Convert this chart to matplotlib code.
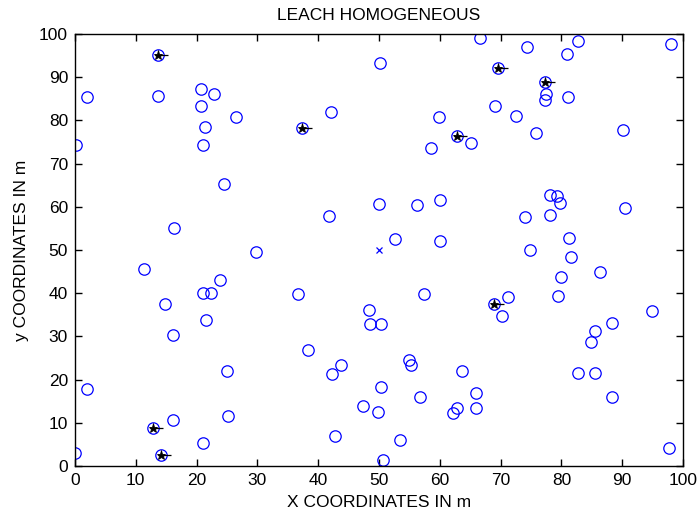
import matplotlib
matplotlib.use('Agg')
import matplotlib.pyplot as plt
from matplotlib.markers import TICKRIGHT

# ── Node positions (m) ──────────────────────────────────────────────────────
node_x = [
    13.7, 2.0, 13.7, 20.7, 22.9, 20.7, 26.5, 21.4, 0.2, 21.1, 24.5, 16.3, 29.8,
    66.6, 50.2, 42.1, 37.3, 59.9, 62.9, 65.2, 58.5, 50.0, 56.2, 60.1, 41.7, 52.6, 60.1,
    74.4, 82.7, 80.9, 98.1, 69.6, 77.3, 77.5, 77.3, 81.1, 69.1, 72.6, 75.8, 90.1,
    78.1, 79.3, 79.7, 90.5, 74.0, 78.1, 81.3, 74.9,
    11.3, 23.9, 21.1, 22.4, 14.8, 21.6, 16.1, 25.0, 2.0, 16.1, 25.1, 12.9, 21.0, 0.0, 14.2,
    36.6, 57.4, 48.4, 48.6, 50.4, 38.4, 55.0, 55.3, 43.8, 42.2, 63.6, 50.4, 65.9,
    56.7, 47.4, 49.8, 62.9, 62.2, 65.9, 42.8, 53.4, 50.6,
    81.5, 86.4, 79.9, 79.5, 68.9, 71.2, 70.3, 94.9, 88.3, 85.5, 84.8, 82.8, 85.5, 88.3, 97.7,
]
node_y = [
    95.1, 85.4, 85.7, 87.2, 86.0, 83.4, 80.7, 78.4, 74.2, 74.2, 65.2, 55.2, 49.6,
    99.0, 93.4, 81.9, 78.2, 80.7, 76.5, 74.8, 73.7, 60.7, 60.4, 61.6, 57.8, 52.5, 52.2,
    96.9, 98.4, 95.4, 97.8, 92.1, 88.9, 86.1, 84.8, 85.4, 83.4, 81.0, 77.2, 77.8,
    62.8, 62.6, 61.0, 59.8, 57.7, 58.1, 52.7, 49.9,
    45.7, 43.1, 40.1, 40.1, 37.4, 33.9, 30.3, 22.0, 17.8, 10.6, 11.6, 8.8, 5.4, 3.0, 2.6,
    39.8, 39.8, 36.2, 32.9, 32.9, 26.9, 24.5, 23.4, 23.4, 21.3, 21.9, 18.4, 16.9,
    16.0, 14.0, 12.5, 13.4, 12.2, 13.4, 6.9, 6.0, 1.4,
    48.5, 45.0, 43.8, 39.4, 37.4, 39.2, 34.7, 36.0, 33.0, 31.3, 28.7, 21.6, 21.6, 16.0, 4.2,
]

# Cluster heads elected in this round
ch_x = [13.7, 37.3, 62.9, 69.6, 77.3, 12.9, 14.2, 68.9]
ch_y = [95.1, 78.2, 76.5, 92.1, 88.9, 8.8, 2.6, 37.4]

# Base station (sink)
sink_x = [50.0]
sink_y = [50.0]

# ── Figure ─────────────────────────────────────────────────────────────────
plt.rcParams['font.family'] = ['Liberation Sans', 'DejaVu Sans']
fig = plt.figure(figsize=(6.99, 5.17), dpi=100)
ax = fig.add_axes([0.1073, 0.0986, 0.8698, 0.8356])

ax.plot(node_x, node_y, 'o', color='blue', markerfacecolor='none',
        markersize=8.2, markeredgewidth=0.9)
ax.plot(ch_x, ch_y, '*', color='black', markersize=6.5, markeredgewidth=0.6)
ax.plot(ch_x, ch_y, marker=TICKRIGHT, linestyle='none', color='black',
        markersize=7, markeredgewidth=0.9)
ax.plot(sink_x, sink_y, 'x', color='blue', markersize=4.5, markeredgewidth=0.9)

ax.set_xlim(0, 100)
ax.set_ylim(0, 100)
ax.set_xticks(range(0, 101, 10))
ax.set_yticks(range(0, 101, 10))
ax.tick_params(direction='in', top=True, right=True, length=5, width=1,
               labelsize=12.5, pad=5)
for s in ax.spines.values():
    s.set_linewidth(1.0)

ax.set_title('LEACH HOMOGENEOUS', fontsize=12.5, pad=10)
ax.set_xlabel('X COORDINATES IN m', fontsize=12.5, labelpad=5)
ax.set_ylabel('y COORDINATES IN m', fontsize=12.5, labelpad=7)

fig.savefig('out.png', dpi=100)
